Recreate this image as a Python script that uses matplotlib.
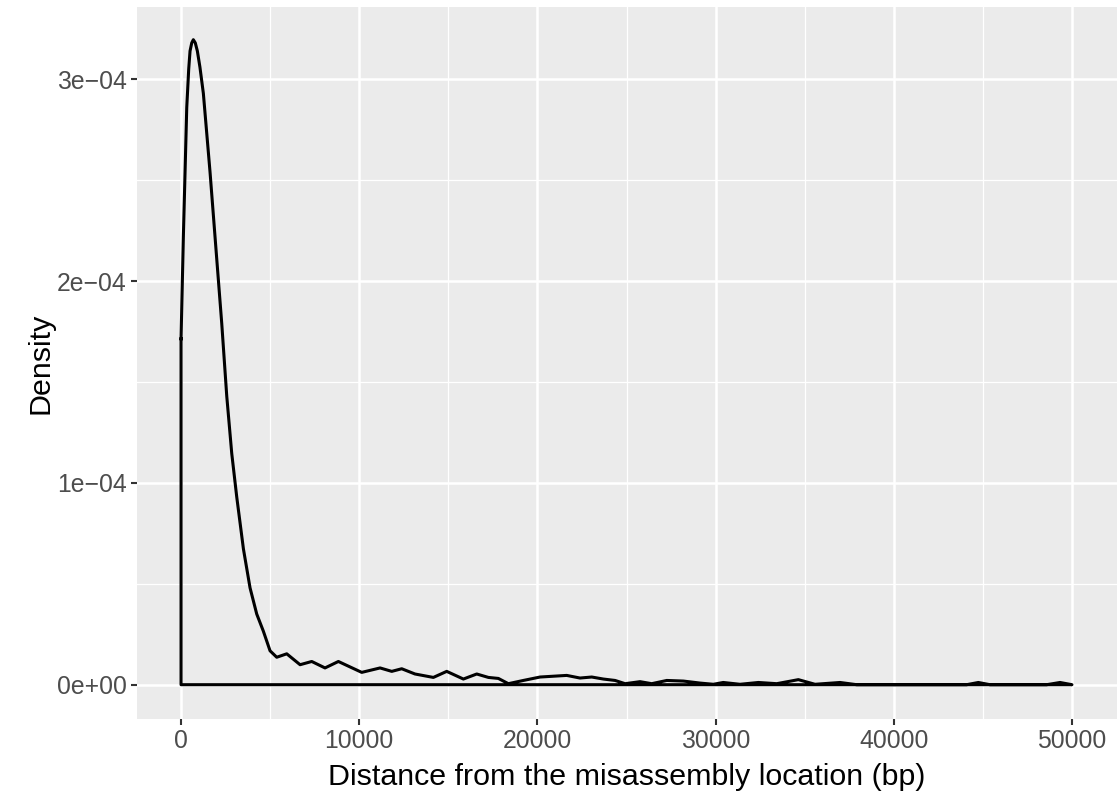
import matplotlib
matplotlib.use("Agg")
import matplotlib.pyplot as plt

plt.rcParams['font.family'] = ['Liberation Sans', 'DejaVu Sans']

# density curve (distance in bp, density)
dist = [0, 130, 320, 430, 505, 600, 690, 800, 915, 1060, 1252, 1627, 2003,
        2284, 2565, 2845, 3126, 3500, 3872, 4248, 4620, 4995, 5370, 5932,
        6680, 7335, 8080, 8830, 10140, 11170, 11825, 12385, 13130, 14160,
        14910, 15845, 16595, 17250, 17810, 18370, 19210, 20150, 21645, 22390,
        23050, 23700, 24360, 24920, 25760, 26415, 27260, 28190, 29130, 29875,
        30430, 31370, 32400, 33430, 34645, 35580, 36985, 37920, 44090, 44745,
        45400, 48580, 49330, 50000]
dens = [1.714e-4, 2.22e-4, 2.86e-4, 3.05e-4, 3.14e-4, 3.18e-4, 3.196e-4,
        3.18e-4, 3.14e-4, 3.06e-4, 2.93e-4, 2.54e-4, 2.11e-4, 1.79e-4,
        1.43e-4, 1.146e-4, 0.93e-4, 0.673e-4, 0.48e-4, 0.35e-4, 0.265e-4,
        0.168e-4, 0.136e-4, 0.153e-4, 0.099e-4, 0.115e-4, 0.083e-4, 0.115e-4,
        0.061e-4, 0.083e-4, 0.066e-4, 0.079e-4, 0.053e-4, 0.036e-4, 0.066e-4,
        0.028e-4, 0.053e-4, 0.036e-4, 0.031e-4, 0.005e-4, 0.021e-4, 0.038e-4,
        0.046e-4, 0.033e-4, 0.038e-4, 0.028e-4, 0.021e-4, 0.005e-4, 0.015e-4,
        0.005e-4, 0.021e-4, 0.018e-4, 0.008e-4, 0.002e-4, 0.011e-4, 0.002e-4,
        0.011e-4, 0.005e-4, 0.025e-4, 0.002e-4, 0.011e-4, 0.0, 0.0, 0.011e-4,
        0.0, 0.0, 0.011e-4, 0.0]

x_ticks = [0, 10000, 20000, 30000, 40000, 50000]
y_ticks = [0, 1e-4, 2e-4, 3e-4]
y_labels = ["0e+00", "1e\u221204", "2e\u221204", "3e\u221204"]

fig = plt.figure(figsize=(11.18, 7.93), dpi=100)
ax = fig.add_axes([136.5 / 1118, 1 - 719 / 793, (1116.5 - 136.5) / 1118, (719 - 7) / 793])

ax.set_facecolor('#EBEBEB')
for s in ax.spines.values():
    s.set_visible(False)

# minor grid
for v in [5000, 15000, 25000, 35000, 45000]:
    ax.axvline(v, color='white', lw=0.9, zorder=0)
for v in [0.5e-4, 1.5e-4, 2.5e-4]:
    ax.axhline(v, color='white', lw=0.9, zorder=0)
# major grid
for v in x_ticks:
    ax.axvline(v, color='white', lw=1.8, zorder=0)
for v in y_ticks:
    ax.axhline(v, color='white', lw=1.8, zorder=0)

# outline of the density polygon (closed along the baseline)
ax.plot(dist + [dist[-1], 0, 0], dens + [0, 0, dens[0]], color='black', lw=2.2,
        solid_joinstyle='round', zorder=3)

ax.set_xlim(-2500, 52500)
ax.set_ylim(-1.7e-5, 3.358e-4)
ax.set_xticks(x_ticks)
ax.set_xticklabels([str(v) for v in x_ticks])
ax.set_yticks(y_ticks)
ax.set_yticklabels(y_labels)
ax.tick_params(axis='both', length=4, width=1.5, color='#333333',
               labelcolor='#4D4D4D', labelsize=17.8, pad=3)

ax.set_xlabel('Distance from the misassembly location (bp)', fontsize=21.9, labelpad=7.5)
ax.set_ylabel('Density', fontsize=21.9, labelpad=1.5)

fig.savefig('out.png', dpi=100)
